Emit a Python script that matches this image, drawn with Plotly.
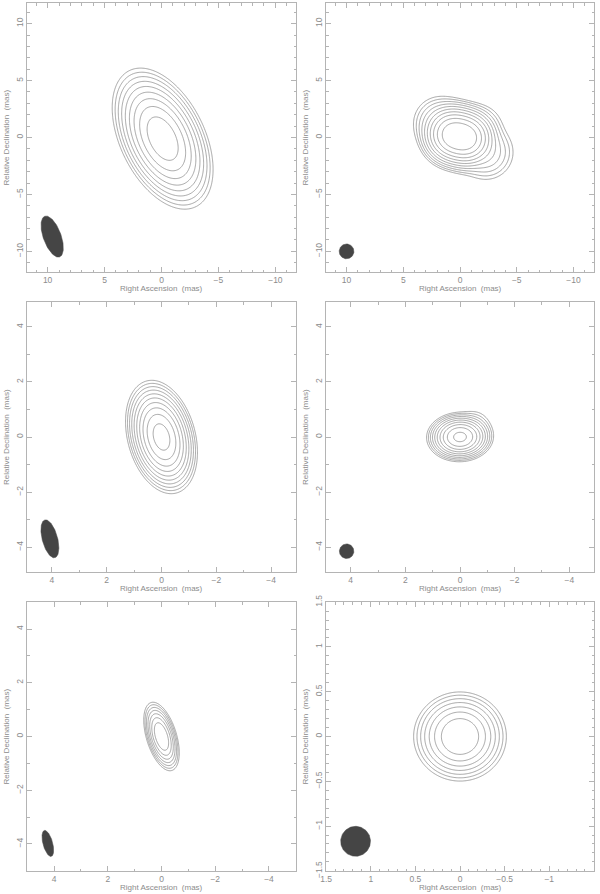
import numpy as np
import plotly.graph_objects as go

# ---------------- data ----------------
# Axis half-widths (mas) for the six panels (x axis reversed: RA increases to the left)
PANEL_HALF = [11.8, 11.8, 4.9, 4.9, 5.0, 1.5]
MAJOR_DTICK = [5, 5, 2, 2, 2, 0.5]
MINOR_DTICK = [1, 1, 1, 1, 1, 0.1]

# Gaussian source components per panel: x, y (mas), sigma major/minor (mas), PA (deg), peak
COMP_X = [[-0.1], [0.65, -0.55, 1.8, -2.3, -2.0], [0.0], [0.0, -0.55], [0.0], [0.0]]
COMP_Y = [[-0.1], [0.25, -0.05, 1.3, -1.3, 1.1], [0.0], [0.0, 0.45], [0.0], [0.0]]
COMP_SMAJ = [[1.9], [0.85, 0.85, 0.95, 1.0, 0.9], [0.58], [0.34, 0.3], [0.42], [0.165]]
COMP_SMIN = [[1.06], [0.85, 0.85, 0.95, 1.0, 0.9], [0.34], [0.25, 0.3], [0.178], [0.158]]
COMP_PA = [[26], [0, 0, 0, 0, 0], [15], [92, 0], [17], [90]]
COMP_PEAK = [[1.0], [1.0, 1.0, 0.02, 0.02, 0.004], [1.0], [1.0, 0.004], [1.0], [1.0]]

# Contour levels as fraction of the map peak (doubling)
N_LEVELS = [9, 10, 10, 10, 7, 7]
TOP_LEVEL = [0.56, 0.40, 0.70, 0.79, 0.45, 0.45]

# Restoring beams: centre x, y (mas), semi-major, semi-minor (mas), PA (deg)
BEAM_X = [9.6, 10.0, 4.07, 4.15, 4.23, 1.17]
BEAM_Y = [-8.7, -10.0, -3.7, -4.15, -3.98, -1.17]
BEAM_A = [1.9, 0.65, 0.71, 0.265, 0.5, 0.167]
BEAM_B = [0.78, 0.65, 0.28, 0.265, 0.18, 0.167]
BEAM_PA = [20, 0, 15, 0, 15, 0]

X_TITLE = "Right Ascension\u00a0 (mas)"
Y_TITLE = "Relative Declination\u00a0 (mas)"

# ---------------- layout geometry (pixels) ----------------
W, H = 600, 894
COL_X = [(27, 296), (326, 594)]
ROW_Y = [(3, 272), (302, 572), (602, 871)]

TXT = "#8c8c8c"
FRAME = "#b4b4b4"
CONT = "#8e8e8e"
FONT = "Liberation Sans"

fig = go.Figure()


def gauss_map(i, xs, ys):
    X, Y = np.meshgrid(xs, ys)
    img = np.zeros_like(X)
    for x0, y0, sa, sb, pa, pk in zip(COMP_X[i], COMP_Y[i], COMP_SMAJ[i], COMP_SMIN[i], COMP_PA[i], COMP_PEAK[i]):
        t = np.deg2rad(pa)
        dx, dy = X - x0, Y - y0
        u = dx * np.sin(t) + dy * np.cos(t)
        v = dx * np.cos(t) - dy * np.sin(t)
        img += pk * np.exp(-(u ** 2 / (2 * sa ** 2) + v ** 2 / (2 * sb ** 2)))
    return img / img.max()


layout_axes = {}
for i in range(6):
    r, c = divmod(i, 2)
    n = i + 1
    xa = "x" if n == 1 else f"x{n}"
    ya = "y" if n == 1 else f"y{n}"
    h = PANEL_HALF[i]

    xs = np.linspace(-h, h, 321)
    ys = np.linspace(-h, h, 321)
    img = gauss_map(i, xs, ys)
    z = np.log2(np.maximum(img, 1e-12))
    top = np.log2(TOP_LEVEL[i])
    fig.add_trace(go.Contour(
        x=xs, y=ys, z=z, xaxis=xa, yaxis=ya,
        contours=dict(start=top - (N_LEVELS[i] - 1), end=top, size=1, coloring="lines"),
        colorscale=[[0, CONT], [1, CONT]], showscale=False,
        line=dict(width=0.8, smoothing=1), hoverinfo="skip"))

    tt = np.linspace(0, 2 * np.pi, 120)
    p = np.deg2rad(BEAM_PA[i])
    bx = BEAM_X[i] + BEAM_A[i] * np.cos(tt) * np.sin(p) + BEAM_B[i] * np.sin(tt) * np.cos(p)
    by = BEAM_Y[i] + BEAM_A[i] * np.cos(tt) * np.cos(p) - BEAM_B[i] * np.sin(tt) * np.sin(p)
    fig.add_trace(go.Scatter(x=bx, y=by, xaxis=xa, yaxis=ya, mode="lines", fill="toself",
                             fillcolor="#454545", line=dict(width=0.5, color="#454545"),
                             hoverinfo="skip", showlegend=False))

    x0p, x1p = COL_X[c]
    y0p, y1p = ROW_Y[r]
    common = dict(showgrid=False, zeroline=False, showline=True, linecolor=FRAME, linewidth=1,
                  mirror="allticks", ticks="inside", ticklen=5, tickcolor=FRAME, tickwidth=1,
                  tickmode="linear", tick0=0, dtick=MAJOR_DTICK[i], automargin=False,
                  minor=dict(ticks="inside", ticklen=2.5, tickcolor=FRAME, dtick=MINOR_DTICK[i], tick0=0),
                  tickfont=dict(family=FONT, size=8.5, color=TXT))
    eps = h * 1e-3
    layout_axes[("xaxis" if n == 1 else f"xaxis{n}")] = dict(
        common, domain=[x0p / W, x1p / W], range=[h + eps, -h - eps], anchor=ya)
    layout_axes[("yaxis" if n == 1 else f"yaxis{n}")] = dict(
        common, domain=[1 - y1p / H, 1 - y0p / H], range=[-h - eps, h + eps], anchor=xa,
        tickangle=-90)

    # axis titles
    fig.add_annotation(x=(x0p + x1p) / 2 / W, y=1 - (y1p + 16.5) / H, xref="paper", yref="paper",
                       text=X_TITLE, showarrow=False, font=dict(family=FONT, size=8, color=TXT),
                       xanchor="center", yanchor="middle")
    fig.add_annotation(x=(x0p - 21) / W, y=1 - (y0p + y1p) / 2 / H, xref="paper", yref="paper",
                       text=Y_TITLE, showarrow=False, textangle=-90,
                       font=dict(family=FONT, size=8, color=TXT),
                       xanchor="center", yanchor="middle")

fig.update_layout(width=W, height=H, margin=dict(l=0, r=0, t=0, b=0),
                  plot_bgcolor="white", paper_bgcolor="white", showlegend=False,
                  **layout_axes)

fig.write_html("out.html", config={"displayModeBar": False},
               post_script="document.body.style.margin='0';document.body.style.overflow='hidden';")
